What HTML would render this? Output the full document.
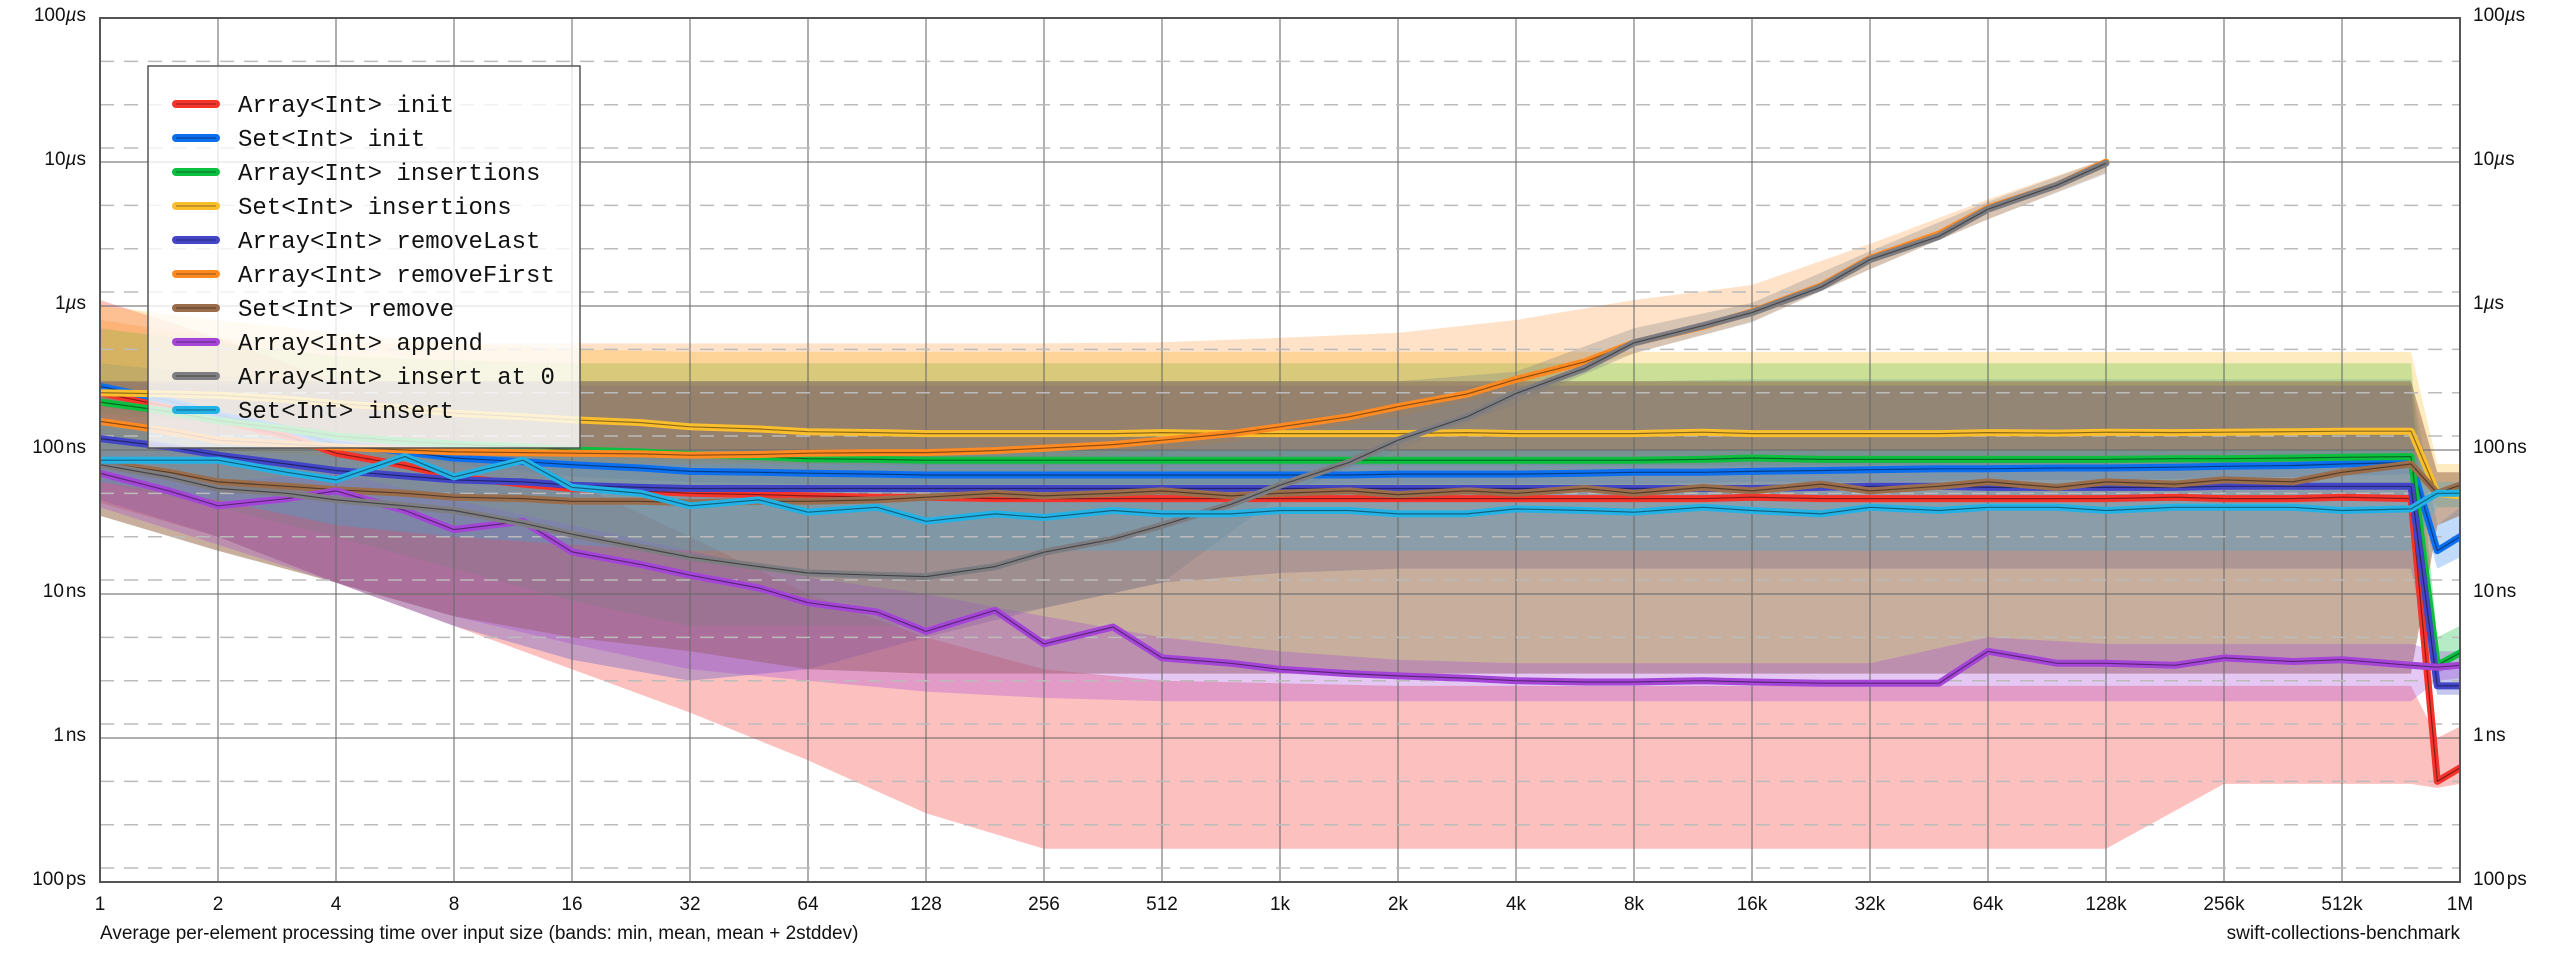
<!DOCTYPE html>
<html><head><meta charset="utf-8"><style>
html,body{margin:0;padding:0;background:#fff;}
svg{display:block;}
text{font-family:"Liberation Sans",sans-serif;}
.mono{font-family:"Liberation Mono",monospace;}
</style></head><body>
<svg id="chart" width="2560" height="960" viewBox="0 0 2560 960" xmlns="http://www.w3.org/2000/svg">
<defs><clipPath id="pc"><rect x="100" y="18" width="2360" height="864"/></clipPath></defs>
<g id="bands" clip-path="url(#pc)"></g>
<g id="grid"></g>
<g id="lines" clip-path="url(#pc)"></g>
<rect x="100" y="18" width="2360" height="864" fill="none" stroke="#555" stroke-width="2"/>
<g id="axes"></g>
<text x="100" y="939" font-size="19" fill="#111">Average per-element processing time over input size (bands: min, mean, mean + 2stddev)</text>
<text x="2460" y="939" font-size="19" fill="#111" text-anchor="end">swift-collections-benchmark</text>
<g id="legend"></g>
</svg>
<script>
const sizes=[1,1.5,2,3,4,6,8,12,16,24,32,48,64,96,128,192,256,384,512,768,1024,1536,2048,3072,4096,6144,8192,12288,16384,24576,32768,49152,65536,98304,131072,196608,262144,393216,524288,786432,917504,1048576];
const bandSizes=[1,2,4,8,16,32,64,128,256,512,1024,2048,4096,8192,16384,32768,65536,131072,262144,524288,786432,917504,1048576];
const xTickLabels=["1","2","4","8","16","32","64","128","256","512","1k","2k","4k","8k","16k","32k","64k","128k","256k","512k","1M"];
const yTickValues=[100000,10000,1000,100,10,1,0.1];
const yTickNums=["100","10","1","100","10","1","100"];
const yTickUnits=["µs","µs","µs","ns","ns","ns","ps"];
const names=["Array<Int> init","Set<Int> init","Array<Int> insertions","Set<Int> insertions","Array<Int> removeLast","Array<Int> removeFirst","Set<Int> remove","Array<Int> append","Array<Int> insert at 0","Set<Int> insert"];
const colors=["#f5332b","#0b6ff0","#0cbf3f","#fbbf2d","#4246c6","#ff8a22","#9a6e4c","#a445d8","#7e7e82","#22b2e6"];
const bandOpacity=[0.3,0.25,0.3,0.3,0.3,0.25,0.55,0.3,0.3,0.25];
const arrayInit=[250,200,162,125,95,78,65,58,54,52,50,49,48,47,47,46,46,46,46,46,46,46,46,46,46,46,46,46,47,46,46,46,46,46,46,47,46,46,47,46,0.5,0.62];
const setInit=[277,220,175,140,110,97,88,83,79,75,71,70,69,68,67,67,67,67,67,67,67,67,68,68,68,69,70,70,71,72,73,74,74,75,75,76,77,78,80,82,20,25];
const arrayInsertions=[215,185,160,140,125,115,110,105,100,97,93,90,87,86,85,85,85,85,85,85,85,85,85,85,85,85,85,86,88,86,86,86,86,86,86,87,87,88,89,90,3.2,3.9];
const setInsertions=[250,245,240,225,210,195,180,170,162,155,145,140,134,132,130,130,130,130,132,130,130,130,130,132,130,130,130,133,130,130,130,130,132,131,133,132,133,134,135,135,50,48];
const removeLast=[120,105,92,80,72,66,62,60,57,55,54,54,54,54,54,54,54,54,54,54,54,54,54,54,54,54,54,54,54,55,56,56,55,55,55,55,56,56,56,56,2.3,2.3];
const removeFirst=[158,135,117,110,105,100,97,96,95,94,92,93,95,96,96,99,103,109,117,130,145,170,200,245,309,410,555,720,910,1380,2140,3160,4790,6900,10000,null,null,null,null,null,null,null];
const setRemove=[82,70,60,56,53,50,47,46,44,44,43,44,44,45,47,50,48,50,52,48,50,52,49,52,50,54,50,55,52,58,52,56,60,55,60,58,62,60,70,80,50,57];
const append=[69,52,41,46,52,38,28,32,19.6,16,13.5,11,8.7,7.5,5.5,7.7,4.5,5.9,3.6,3.3,3.0,2.8,2.7,2.6,2.5,2.45,2.45,2.5,2.45,2.4,2.4,2.4,4.0,3.3,3.3,3.2,3.6,3.4,3.5,3.2,3.1,3.2];
const insertAt0=[79,65,54,50,45,41,38,31,26,21,18,15.5,14,13.5,13.2,15.5,19.5,24,30,42,57,82,117,170,247,370,555,730,900,1350,2100,3050,4700,6900,9800,null,null,null,null,null,null,null];
const setInsert=[85,85,85,70,62,90,65,85,55,50,41,45,37,40,32,36,34,38,36,36,38,38,36,36,39,38,37,40,38,36,40,38,40,40,38,40,40,40,38,39,50,50];
const series=[arrayInit,setInit,arrayInsertions,setInsertions,removeLast,removeFirst,setRemove,append,insertAt0,setInsert];
const loArrayInit=[43,25,12,6,3,1.5,0.7,0.3,0.17,0.17,0.17,0.17,0.17,0.17,0.17,0.17,0.17,0.17,0.48,0.48,0.48,0.45,0.48];
const hiArrayInit=[1100,600,300,150,60,25,10,5,3,2.5,2.4,2.3,2.3,2.3,2.3,2.3,2.3,2.3,2.3,2.3,2.3,1,1.2];
const loSetInit=[200,150,110,80,65,60,58,58,58,58,58,58,58,58,60,60,62,62,64,66,68,15,18];
const hiSetInit=[400,330,300,300,300,300,300,300,300,300,300,300,300,300,310,310,310,310,310,310,310,30,40];
const loArrIns=[180,150,120,100,90,85,80,78,78,78,78,78,78,78,78,78,78,78,78,80,80,2.8,3.4];
const hiArrIns=[700,550,450,420,400,400,400,400,400,400,400,400,400,400,400,400,400,400,400,400,400,5,6];
const loSetIns=[100,95,90,85,80,80,80,80,80,80,80,80,80,80,80,80,80,80,80,80,80,40,40];
const hiSetIns=[1000,800,650,550,500,480,480,480,480,480,480,480,480,480,480,480,480,480,480,480,480,80,80];
const loRemLast=[45,25,12,6,3.5,2.5,3,5,8,12,14,15,15,15,15,15,15,15,15,15,15,2,2];
const hiRemLast=[300,280,280,280,280,280,280,280,280,280,280,280,280,280,280,280,280,280,280,280,280,3,3];
const loRemFirst=[130,100,90,85,80,80,80,80,85,100,125,170,260,470,780,1800,4000,8500,null,null,null,null,null];
const hiRemFirst=[800,600,550,550,550,550,550,550,550,560,600,650,800,1100,1400,2700,5500,10500,null,null,null,null,null];
const loSetRem=[35,20,12,7,5,4,3,2.8,2.8,2.8,2.8,2.8,2.8,2.8,2.8,2.8,2.8,2.8,2.8,2.8,2.8,30,35];
const hiSetRem=[300,300,300,300,300,300,300,300,300,300,300,300,300,300,300,300,300,300,300,300,300,70,70];
const loAppend=[40,22,12,7,4.5,3,2.5,2.1,1.9,1.8,1.8,1.8,1.8,1.8,1.8,1.8,1.8,1.8,1.8,1.8,1.8,2.5,2.6];
const hiAppend=[90,60,70,45,30,20,13,10,7,5,4,3.5,3.3,3.3,3.3,3.3,5,4.5,4.5,4.5,4.5,4,4];
const loIns0=[60,40,25,15,9,6,6,6,8,12,48,100,210,470,770,1800,4000,8300,null,null,null,null,null];
const hiIns0=[300,300,300,300,300,300,300,300,300,300,300,300,350,700,1050,2400,5300,10500,null,null,null,null,null];
const loSetInsert=[60,45,30,25,22,20,20,20,20,20,20,20,20,20,20,20,20,20,20,20,20,40,40];
const hiSetInsert=[150,130,120,110,100,100,100,100,100,100,100,100,100,100,100,100,100,100,100,100,100,60,60];
const bandLo=[loArrayInit,loSetInit,loArrIns,loSetIns,loRemLast,loRemFirst,loSetRem,loAppend,loIns0,loSetInsert];
const bandHi=[hiArrayInit,hiSetInit,hiArrIns,hiSetIns,hiRemLast,hiRemFirst,hiSetRem,hiAppend,hiIns0,hiSetInsert];

const NS="http://www.w3.org/2000/svg";
const X0=100,X1=2460,Y0=18,Y1=882;
function xs(s){return X0+Math.log2(s)*(X1-X0)/20;}
function ys(v){return Y0+(5-Math.log10(v))*(Y1-Y0)/6;}
function mk(tag,attrs,parent){const e=document.createElementNS(NS,tag);for(const k in attrs)e.setAttribute(k,attrs[k]);parent.appendChild(e);return e;}

const bands=document.getElementById('bands');
for(let i=0;i<series.length;i++){
  const lo=bandLo[i],hi=bandHi[i];let top=[],bot=[];
  for(let j=0;j<bandSizes.length;j++){if(lo[j]==null)continue;top.push(xs(bandSizes[j]).toFixed(1)+','+ys(hi[j]).toFixed(1));bot.unshift(xs(bandSizes[j]).toFixed(1)+','+ys(lo[j]).toFixed(1));}
  const p=mk('polygon',{points:top.concat(bot).join(' '),fill:colors[i],'fill-opacity':bandOpacity[i]},bands);
  
  
}
const grid=document.getElementById('grid');
for(let k=0;k<=20;k++){const x=X0+k*(X1-X0)/20;const l=mk('line',{x1:x,x2:x,y1:Y0,y2:Y1,stroke:'#6a6a6a','stroke-opacity':'0.7','stroke-width':'1.5'},grid);
  
  }
for(let d=0;d<6;d++){
  const base=yTickValues[d];
  [0.5,0.25,0.125].forEach(f=>{const y=ys(base*f);const l=mk('line',{x1:X0,x2:X1,y1:y,y2:y,stroke:'#bbb','stroke-width':'1.5','stroke-dasharray':'14,10'},grid);
    
    });
}
for(let d=1;d<6;d++){const y=ys(yTickValues[d]);const l=mk('line',{x1:X0,x2:X1,y1:y,y2:y,stroke:'#6a6a6a','stroke-opacity':'0.7','stroke-width':'1.5'},grid);
  
  }

const lines=document.getElementById('lines');
for(let i=0;i<series.length;i++){
  const v=series[i];let pts=[];
  for(let j=0;j<sizes.length;j++){if(v[j]==null)continue;pts.push(xs(sizes[j]).toFixed(1)+','+ys(v[j]).toFixed(1));}
  const g=mk('g',{},lines);
  
  
  mk('polyline',{points:pts.join(' '),fill:'none',stroke:colors[i],'stroke-width':'7','stroke-linejoin':'round','stroke-linecap':'round'},g);
  mk('polyline',{points:pts.join(' '),fill:'none',stroke:'#000','stroke-opacity':'0.45','stroke-width':'1.2','stroke-linejoin':'round'},g);
}
const axes=document.getElementById('axes');
for(let k=0;k<=20;k++){const t=mk('text',{x:X0+k*(X1-X0)/20,y:910,'font-size':'19','text-anchor':'middle',fill:'#111'},axes);t.textContent=xTickLabels[k];
  
  }
for(let d=0;d<7;d++){const y=ys(yTickValues[d])+3;
  [[86,'end'],[2473,'start']].forEach(([x,a])=>{const t=mk('text',{x:x,y:y,'font-size':'19','text-anchor':a,fill:'#111'},axes);
    const n=document.createElementNS(NS,'tspan');n.textContent=yTickNums[d];t.appendChild(n);
    const u=document.createElementNS(NS,'tspan');
    if(yTickUnits[d]==='µs'){u.textContent='µ';u.setAttribute('font-style','italic');t.appendChild(u);const s=document.createElementNS(NS,'tspan');s.textContent='s';t.appendChild(s);}
    else{u.textContent=yTickUnits[d];u.setAttribute('dx','2');t.appendChild(u);}
    
    });
}
const leg=document.getElementById('legend');
const lr=mk('rect',{x:148,y:66,width:432,height:382,fill:'#fff','fill-opacity':'0.8',stroke:'#555','stroke-width':'1.5'},leg);


for(let i=0;i<names.length;i++){const y=104+i*34;const g=mk('g',{},leg);
  
  
  mk('line',{x1:176,x2:216,y1:y,y2:y,stroke:colors[i],'stroke-width':'8','stroke-linecap':'round'},g);
  mk('line',{x1:176,x2:216,y1:y,y2:y,stroke:'#000','stroke-opacity':'0.35','stroke-width':'1.2'},g);
  const t=mk('text',{x:238,y:y+8,'font-size':'24',fill:'#111','class':'mono'},g);t.textContent=names[i];}
</script>
</body></html>
